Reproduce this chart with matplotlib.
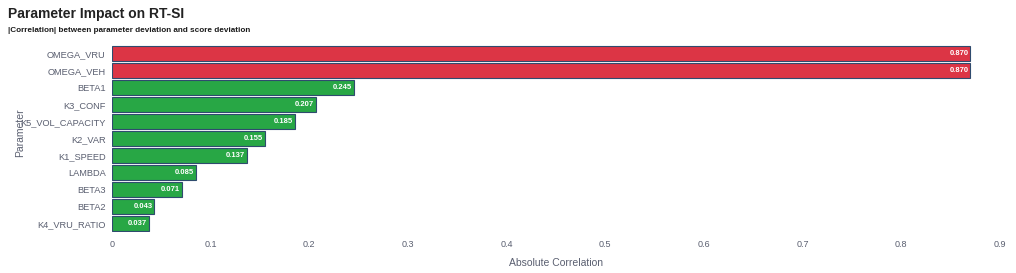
import matplotlib.pyplot as plt
from matplotlib.ticker import FixedLocator

params = ["OMEGA_VRU", "OMEGA_VEH", "BETA1", "K3_CONF", "K5_VOL_CAPACITY", "K2_VAR",
          "K1_SPEED", "LAMBDA", "BETA3", "BETA2", "K4_VRU_RATIO"]
corr = [0.870, 0.870, 0.245, 0.207, 0.185, 0.155, 0.137, 0.085, 0.071, 0.043, 0.037]
x_ticks = [0, 0.1, 0.2, 0.3, 0.4, 0.5, 0.6, 0.7, 0.8, 0.9]
x_tick_labels = ["0", "0.1", "0.2", "0.3", "0.4", "0.5", "0.6", "0.7", "0.8", "0.9"]

red = "#dc3545"
green = "#28a745"
grey = "#5a5f70"

plt.rcParams['font.family'] = ['Liberation Sans', 'DejaVu Sans']

fig = plt.figure(figsize=(10.16, 2.73), dpi=100)
ax = fig.add_axes([112 / 1016, 41 / 273, 888 / 1016, 187 / 273])

colors = [red if v > 0.5 else green for v in corr]
pos = list(range(len(params)))
ax.barh(pos, corr, height=0.86, color=colors, edgecolor="#2f4b6e", linewidth=0.8)

for p, v in zip(pos, corr):
    ax.text(v - 0.002, p, f"{v:.3f}", ha="right", va="center", color="white",
            fontsize=5.5, fontweight="semibold")

ax.set_xlim(0, 0.9)
ax.set_ylim(len(params) - 0.5, -0.5)
ax.set_yticks(pos)
ax.set_yticklabels(params, fontsize=6.7, color=grey)
ax.xaxis.set_major_locator(FixedLocator(x_ticks))
ax.set_xticklabels(x_tick_labels, fontsize=6.5, color=grey)
ax.tick_params(axis="both", length=0)
ax.tick_params(axis="x", pad=6)
ax.tick_params(axis="y", pad=4.5)
for s in ax.spines.values():
    s.set_visible(False)

ax.set_xlabel("Absolute Correlation", fontsize=7.5, color=grey, labelpad=6)
fig.text(20 / 1016, 140 / 273, "Parameter", rotation=90, ha="center", va="center",
         fontsize=7.5, color=grey)

fig.text(8 / 1016, 1 - 14 / 273, "Parameter Impact on RT-SI", fontsize=10,
         fontweight="bold", color="#222222", va="center")
fig.text(8 / 1016, 1 - 31 / 273, "|Correlation| between parameter deviation and score deviation",
         fontsize=5.9, fontweight="bold", color="#1a1a1a", va="center")

fig.savefig("out.png", dpi=100)
